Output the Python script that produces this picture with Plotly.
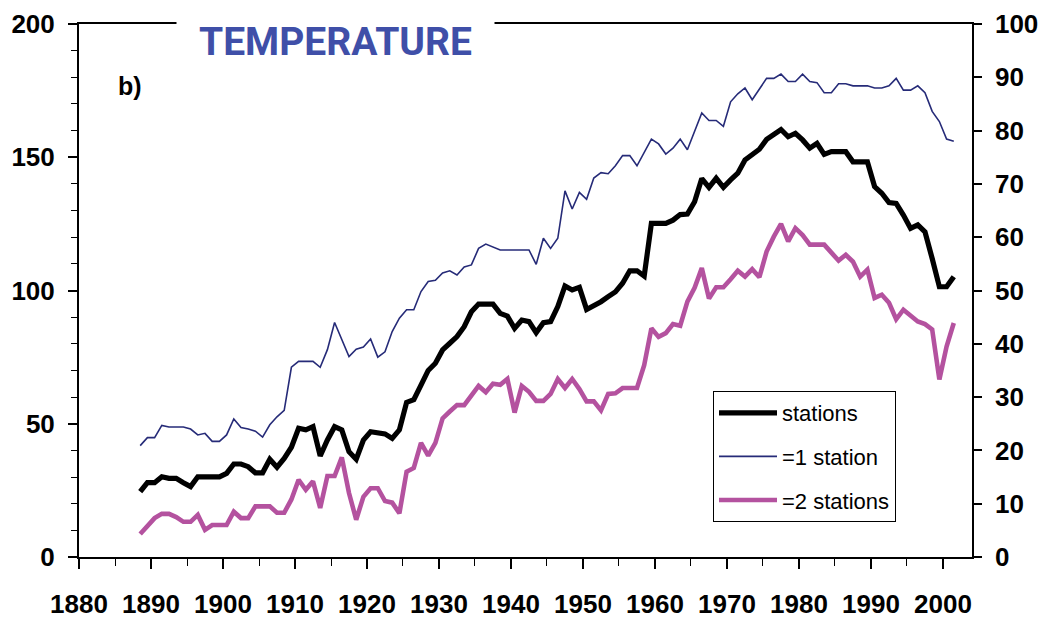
import plotly.graph_objects as go

# Annual series, 1888-2001
years = list(range(1888, 2002))

# number of stations (left axis)
stations = [
    24.5, 27.9, 27.9, 30.1, 29.5, 29.5, 27.9, 26.4, 30.1, 30.1, 30.1, 30.1,
    31.4, 34.9, 34.9, 33.9, 31.6, 31.6, 36.7, 33.7, 37.0, 41.2,
    48.3, 47.7, 48.9, 37.9, 43.9, 48.9, 47.7, 39.5, 36.7, 43.9,
    47.0, 46.4, 46.2, 44.5, 47.7, 58.0, 59.0, 64.5, 70.0, 72.7,
    77.7, 80.2, 82.7, 86.4, 92.0, 94.9, 94.9, 94.9, 91.4, 90.4,
    85.8, 88.9, 88.3, 84.2, 87.9, 88.3, 94.0, 101.7, 100.2, 101.2,
    92.9, 94.2, 95.8, 97.7, 99.5, 102.7, 107.4, 107.4, 105.4, 125.2,
    125.2, 125.2, 126.4, 128.5, 128.7, 133.3, 142.0, 138.7, 142.1, 138.7,
    141.5, 144.0, 149.0, 151.2, 153.0, 156.7, 158.3, 160.4, 157.7, 159.0,
    156.5, 153.4, 155.2, 151.1, 152.1, 152.1, 152.1, 148.3, 148.3, 148.3,
    139.0, 136.5, 133.0, 132.7, 128.3, 123.3, 124.6, 122.0, 112.0, 101.4,
    101.4, 105.2,
]

# grid boxes covered by exactly one station (right axis)
one_station = [
    20.9, 22.4, 22.4, 24.7, 24.4, 24.4, 24.4, 24.0, 22.9, 23.2, 21.7, 21.7,
    22.9, 25.9, 24.3, 24.0, 23.6, 22.5, 24.8, 26.3, 27.5, 35.6,
    36.7, 36.7, 36.7, 35.6, 38.9, 44.0, 40.9, 37.6, 39.0, 39.4,
    40.9, 37.5, 38.5, 42.3, 44.8, 46.4, 46.4, 49.8, 51.7, 51.9,
    53.3, 53.7, 52.9, 54.4, 54.8, 57.9, 58.7, 58.2, 57.6, 57.6,
    57.6, 57.6, 57.6, 54.9, 59.8, 57.9, 59.8, 68.7, 65.3, 68.4,
    67.1, 71.1, 72.1, 71.9, 73.4, 75.3, 75.3, 73.4, 75.8, 78.4,
    77.5, 75.6, 76.7, 78.4, 76.4, 79.8, 83.3, 81.9, 81.9, 80.8,
    85.4, 86.9, 88.0, 85.8, 87.8, 89.8, 89.8, 90.6, 89.2, 89.2,
    90.6, 89.2, 89.0, 87.1, 87.1, 88.8, 88.8, 88.4, 88.4, 88.4,
    88.0, 88.0, 88.4, 89.8, 87.6, 87.6, 88.4, 87.1, 83.6, 81.7,
    78.4, 78.0,
]

# grid boxes covered by two stations (right axis)
two_stations = [
    4.3, 5.7, 7.3, 8.1, 8.1, 7.5, 6.6, 6.6, 7.9, 5.1, 6.0, 6.0,
    6.0, 8.5, 7.3, 7.3, 9.5, 9.5, 9.5, 8.3, 8.3, 10.8,
    14.5, 12.6, 14.2, 9.2, 15.2, 15.2, 18.7, 12.0, 7.0, 11.3,
    12.9, 12.9, 10.5, 10.2, 8.2, 16.0, 16.7, 21.4, 19.0, 21.4,
    26.0, 27.3, 28.5, 28.5, 30.4, 32.1, 30.9, 32.5, 32.3, 33.4,
    27.1, 32.1, 31.0, 29.3, 29.3, 30.6, 33.4, 31.7, 33.4, 31.5,
    29.2, 29.2, 27.5, 30.6, 30.7, 31.7, 31.7, 31.7, 36.0, 42.9,
    41.3, 42.0, 43.7, 43.4, 47.9, 50.5, 54.2, 48.5, 50.6, 50.6,
    52.1, 53.7, 52.6, 54.0, 52.5, 57.3, 60.1, 62.5, 59.2, 61.7,
    60.4, 58.6, 58.6, 58.6, 57.1, 55.6, 56.7, 55.4, 52.6, 53.9,
    48.6, 49.2, 47.7, 44.6, 46.4, 45.4, 44.2, 43.7, 42.7, 33.3,
    39.5, 43.9,
]

# annual values are plotted at mid-year
x_mid = [y + 0.5 for y in years]

TICK_FONT = dict(family="Liberation Sans, Arial, sans-serif", size=26,
                 color="black", weight="bold")

fig = go.Figure()
fig.add_trace(go.Scatter(x=x_mid, y=stations, name="stations", mode="lines",
                         line=dict(color="black", width=5.2), yaxis="y",
                         legendgroup="g1"))
fig.add_trace(go.Scatter(x=x_mid, y=one_station, name="=1 station", mode="lines",
                         line=dict(color="#262B78", width=1.6), yaxis="y2",
                         legendgroup="g2"))
fig.add_trace(go.Scatter(x=x_mid, y=two_stations, name="=2 stations", mode="lines",
                         line=dict(color="#B4529F", width=4.6), yaxis="y2",
                         legendgroup="g3"))

x_range = [1880, 2004.03]
common_axis = dict(showgrid=False, zeroline=False, automargin=False)

fig.update_layout(
    width=1039, height=618, autosize=False,
    margin=dict(l=79, r=67, t=24, b=61, pad=0),
    plot_bgcolor="white", paper_bgcolor="white",
    showlegend=True,
    legend=dict(
        x=(713 - 79) / 893, y=(557 - 391) / 533, xanchor="left", yanchor="top",
        bgcolor="white", bordercolor="black", borderwidth=1,
        font=dict(family="Liberation Sans, Arial, sans-serif", size=22, color="black"),
        traceorder="grouped", tracegroupgap=12, itemwidth=58,
        entrywidth=120, entrywidthmode="pixels",
    ),
    xaxis=dict(
        **common_axis, range=x_range, tick0=1880, dtick=10,
        ticks="outside", ticklen=10, tickwidth=1.5, tickcolor="black",
        minor=dict(tick0=1880, dtick=5, ticks="outside", ticklen=7,
                   tickwidth=1.2, tickcolor="black"),
        showline=True, linewidth=2, linecolor="black", mirror=True,
        tickfont=TICK_FONT, ticklabelstandoff=13,
    ),
    xaxis2=dict(
        **common_axis, range=x_range, overlaying="x", anchor="y", side="bottom",
        tick0=1880, dtick=10, ticks="inside", ticklen=10, tickwidth=1.5,
        tickcolor="black",
        minor=dict(tick0=1880, dtick=5, ticks="inside", ticklen=7,
                   tickwidth=1.2, tickcolor="black"),
        showticklabels=False, showline=False,
    ),
    yaxis=dict(
        **common_axis, range=[0, 200], tick0=0, dtick=50,
        ticks="outside", ticklen=9, tickwidth=1.5, tickcolor="black",
        minor=dict(dtick=10, ticks="outside", ticklen=6, tickwidth=1.2,
                   tickcolor="black"),
        showline=True, linewidth=2, linecolor="black",
        tickfont=TICK_FONT, ticklabelstandoff=8,
    ),
    yaxis2=dict(
        **common_axis, range=[0, 100], tick0=0, dtick=10, overlaying="y",
        side="right", anchor="x",
        ticks="outside", ticklen=8, tickwidth=1.5, tickcolor="black",
        showline=True, linewidth=1.5, linecolor="black",
        tickfont=TICK_FONT, ticklabelstandoff=8,
    ),
    yaxis3=dict(
        **common_axis, range=[0, 200], tick0=0, dtick=50, overlaying="y",
        side="left", anchor="x",
        ticks="inside", ticklen=9, tickwidth=1.5, tickcolor="black",
        minor=dict(dtick=10, ticks="inside", ticklen=6, tickwidth=1.2,
                   tickcolor="black"),
        showticklabels=False, showline=False,
    ),
    yaxis4=dict(
        **common_axis, range=[0, 100], tick0=0, dtick=10, overlaying="y",
        side="right", anchor="x",
        ticks="inside", ticklen=8, tickwidth=1.5, tickcolor="black",
        showticklabels=False, showline=False,
    ),
    annotations=[
        dict(text="TEMPERATURE", xref="paper", yref="paper",
             x=(335 - 79) / 893, y=(557 - 42) / 533,
             xanchor="center", yanchor="middle", showarrow=False,
             font=dict(family="Roboto, sans-serif", size=39, color="#3F4FA8",
                       weight="bold"),
             bgcolor="white", width=317, height=44, borderpad=0),
        dict(text="b)", xref="paper", yref="paper",
             x=(130 - 79) / 893, y=(557 - 86) / 533,
             xanchor="center", yanchor="middle", showarrow=False,
             font=dict(family="Liberation Sans, Arial, sans-serif", size=25,
                       color="black", weight="bold")),
    ],
)

fig.write_html("out.html")
